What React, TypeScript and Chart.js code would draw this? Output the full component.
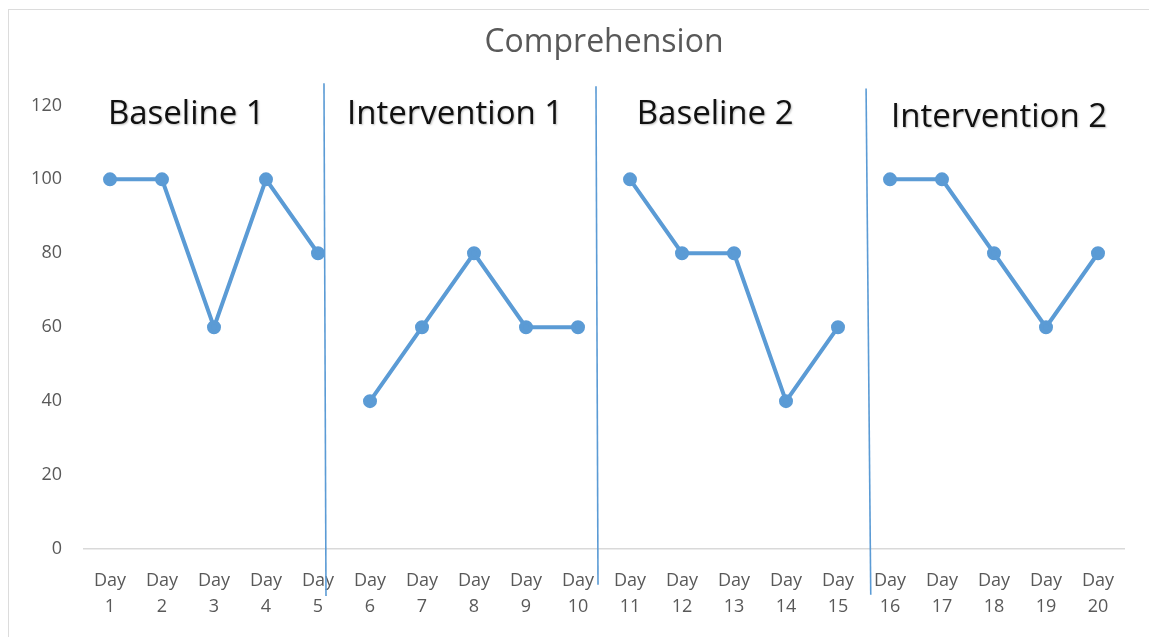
import React, { useEffect, useRef } from "react";
import { Chart, registerables } from "chart.js";

Chart.register(...registerables);

const categories: string[][] = Array.from({ length: 20 }, (_, i) => ["Day", String(i + 1)]);

const baseline1 = [100, 100, 60, 100, 80];
const intervention1 = [40, 60, 80, 60, 60];
const baseline2 = [100, 80, 80, 40, 60];
const intervention2 = [100, 100, 80, 60, 80];

const phaseSeries = [baseline1, intervention1, baseline2, intervention2];

const phaseLabels = ["Baseline 1", "Intervention 1", "Baseline 2", "Intervention 2"];
const phaseLabelX = [-0.04, 4.56, 10.13, 15.02];
const phaseLabelY = [117.6, 117.6, 117.6, 116.8];

// phase change lines (category units / value units), slightly hand drawn
const dividerTopX = [4.115, 9.346, 14.54];
const dividerBottomX = [4.154, 9.385, 14.63];
const dividerTopY = [126, 125.2, 124.6];
const dividerBottomY = [-12.7, -9.7, -12.4];

const yTicks = [0, 20, 40, 60, 80, 100, 120];

const BLUE = "#5B9BD5";
const GRAY = "#595959";

function buildDatasets() {
  return phaseSeries.map((vals, p) => {
    const data: (number | null)[] = categories.map(() => null);
    vals.forEach((v, i) => {
      data[p * 5 + i] = v;
    });
    return {
      label: phaseLabels[p],
      data,
      borderColor: BLUE,
      backgroundColor: BLUE,
      borderWidth: 4,
      pointRadius: 5,
      pointBackgroundColor: BLUE,
      pointBorderColor: BLUE,
      spanGaps: false,
      tension: 0,
    };
  });
}

const overlayPlugin = {
  id: "phaseOverlay",
  afterDatasetsDraw(chart: any) {
    const { ctx, scales } = chart;
    const xs = scales.x;
    const ys = scales.y;
    ctx.save();
    ctx.strokeStyle = BLUE;
    ctx.lineWidth = 1.6;
    for (let i = 0; i < dividerTopX.length; i++) {
      ctx.beginPath();
      ctx.moveTo(xs.getPixelForValue(dividerTopX[i]), ys.getPixelForValue(dividerTopY[i]));
      ctx.lineTo(xs.getPixelForValue(dividerBottomX[i]), ys.getPixelForValue(dividerBottomY[i]));
      ctx.stroke();
    }
    ctx.fillStyle = "#111111";
    ctx.font = '33px "Open Sans"';
    ctx.textAlign = "left";
    ctx.textBaseline = "middle";
    ctx.shadowColor = "rgba(0,0,0,0.25)";
    ctx.shadowBlur = 2;
    ctx.shadowOffsetX = 1;
    ctx.shadowOffsetY = 1;
    for (let i = 0; i < phaseLabels.length; i++) {
      ctx.fillText(phaseLabels[i], xs.getPixelForValue(phaseLabelX[i]), ys.getPixelForValue(phaseLabelY[i]));
    }
    ctx.restore();
  },
};

export default function App() {
  const canvasRef = useRef<HTMLCanvasElement | null>(null);

  useEffect(() => {
    if (!canvasRef.current) return;
    const chart = new Chart(canvasRef.current, {
      type: "line",
      data: { labels: categories as any, datasets: buildDatasets() as any },
      options: {
        animation: false,
        responsive: false,
        maintainAspectRatio: false,
        layout: { padding: { left: 8, right: 25, top: 10, bottom: 10 } },
        plugins: {
          legend: { display: false },
          tooltip: { enabled: false },
          title: {
            display: true,
            fullSize: false,
            text: "Comprehension",
            color: GRAY,
            font: { family: "Open Sans", size: 32, weight: "normal", lineHeight: 1.2 },
            padding: { top: 14, bottom: 43 },
          },
        },
        scales: {
          x: {
            offset: true,
            grid: { display: false, drawTicks: false },
            border: { display: true, color: "#d9d9d9", width: 1.5 },
            ticks: {
              color: GRAY,
              font: { family: "Open Sans", size: 18, lineHeight: 1.45 },
              maxRotation: 0,
              minRotation: 0,
              autoSkip: false,
              padding: 19,
            },
            afterFit(scale: any) {
              scale.height = 78;
            },
          },
          y: {
            min: 0,
            max: 120,
            afterBuildTicks(scale: any) {
              scale.ticks = yTicks.map((v) => ({ value: v }));
            },
            grid: { display: false, drawTicks: false },
            border: { display: false },
            ticks: {
              color: GRAY,
              font: { family: "Open Sans", size: 18 },
              padding: 22,
            },
            afterFit(scale: any) {
              scale.width = 76;
            },
          },
        },
      },
      plugins: [overlayPlugin],
    });
    return () => chart.destroy();
  }, []);

  return (
    <div
      style={{
        position: "fixed",
        left: 0,
        top: 0,
        width: 1149,
        height: 637,
        background: "#ffffff",
      }}
    >
      <div
        style={{
          position: "absolute",
          left: 8,
          top: 9,
          width: 1160,
          height: 660,
          border: "1px solid #dcdcdc",
        }}
      />
      <canvas
        ref={canvasRef}
        width={1149}
        height={637}
        style={{ position: "absolute", left: 0, top: 0, width: 1149, height: 637 }}
      />
    </div>
  );
}
